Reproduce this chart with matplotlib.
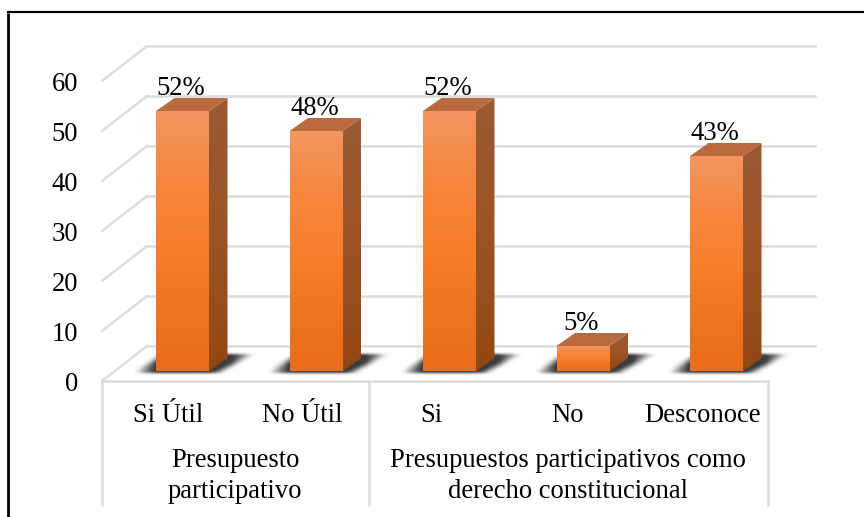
import numpy as np
import matplotlib
matplotlib.use("Agg")
import matplotlib.pyplot as plt
from matplotlib.patches import Polygon, Rectangle
from matplotlib.colors import LinearSegmentedColormap

categories = ["Si Útil", "No Útil", "Si", "No", "Desconoce"]
values = [52, 48, 52, 5, 43]
value_labels = ["52%", "48%", "52%", "5%", "43%"]
groups = ["Presupuesto\nparticipativo", "Presupuestos participativos como\nderecho constitucional"]
y_ticks = [0, 10, 20, 30, 40, 50, 60]

W, H = 864, 517
plt.rcParams["font.family"] = ["Liberation Serif", "DejaVu Serif"]
fig = plt.figure(figsize=(W / 100, H / 100), dpi=100, facecolor="white")
ax = fig.add_axes([0, 0, 1, 1])
SP = 133.5
U = 5.0
X0, Y0 = 182.5, 371.0
xlim = ((0 - X0) / SP, (W - X0) / SP)
ylim = ((Y0 - H) / U, Y0 / U)
ax.set_xlim(*xlim)
ax.set_ylim(*ylim)
ax.axis("off")

px = lambda p: (p - X0) / SP
py = lambda p: (Y0 - p) / U
GRID = "#DCDCDC"
FS = 19.2

# outer frame: only the top and left rules are inside the picture
ax.plot([px(7.5), px(7.5)], [py(12.5), py(517)], color="black", lw=2.0, zorder=1, solid_capstyle="butt")
ax.plot([px(6.5), px(864)], [py(12), py(12)], color="black", lw=1.6, zorder=1, solid_capstyle="butt")

# gridlines and left wall
for v in y_ticks:
    by = py(346) + v
    fy = py(381) + v
    ax.plot([px(102), px(147)], [fy, by], color=GRID, lw=1.8, zorder=1, solid_capstyle="round")
    ax.plot([px(147), px(815)], [by, by], color=GRID, lw=1.8, zorder=1)
    ax.text(px(78), fy - 0.05, str(v), ha="right", va="center_baseline", fontsize=FS, color="black")

# category table
ax.plot([px(102), px(768)], [py(381), py(381)], color=GRID, lw=1.8, zorder=1)
for xp in (102, 369, 768):
    ax.plot([px(xp), px(xp)], [py(381), py(505.5)], color=GRID, lw=1.8, zorder=1, solid_capstyle="butt")

bw = 53 / SP
ddx, ddy = 18.5 / SP, 13 / U
cm_front = LinearSegmentedColormap.from_list("f", ["#F49560", "#F6873F", "#F87F2C", "#EF7520", "#E96D1B"])
cm_side = LinearSegmentedColormap.from_list("s", ["#9A5A33", "#9C5426", "#934812"])
grad = np.linspace(0, 1, 256).reshape(-1, 1)


def box(a, r, axis):
    k = np.ones(2 * r + 1) / (2 * r + 1)
    return np.apply_along_axis(lambda m: np.convolve(m, k, mode="same"), axis, a)


# soft floor shadow, built once in a small pixel raster then placed under each bar
sw, sh = 130, 32
yy, xx = np.mgrid[0:sh, 0:sw]
h = 21 - yy
left = 1 + h * 1.6
right = 84 + h * 1.9
mask = ((h >= -1) & (h <= 17) & (xx >= left) & (xx <= right)).astype(float)
for _ in range(2):
    mask = box(box(mask, 1, 0), 5, 1)
fade = np.clip((xx + 4) / 24, 0, 1) * np.clip((124 - xx) / 28, 0, 1)
shade = np.zeros((sh, sw, 4))
shade[..., :3] = 0.24
shade[..., 3] = np.clip(mask * fade * 1.05, 0, 1)

for i, (v, lab) in enumerate(zip(values, value_labels)):
    l, r = i - bw / 2, i + bw / 2
    sx0 = l - 21 / SP
    ax.imshow(shade, extent=[sx0, sx0 + sw / SP, -(sh - 21) / U, 21 / U], aspect="auto",
              origin="upper", zorder=2, interpolation="bilinear")
    im = ax.imshow(grad, extent=[l, r, 0, v], cmap=cm_front, origin="upper", aspect="auto", zorder=4)
    im.set_clip_path(Rectangle((l, 0), r - l, v, transform=ax.transData))
    side = Polygon([(r, 0), (r + ddx, ddy), (r + ddx, v + ddy), (r, v)], closed=True, transform=ax.transData)
    im2 = ax.imshow(grad, extent=[r, r + ddx, 0, v + ddy], cmap=cm_side, origin="upper", aspect="auto", zorder=4)
    im2.set_clip_path(side)
    ax.add_patch(Polygon([(l, v), (r, v), (r + ddx, v + ddy), (l + ddx, v + ddy)],
                         closed=True, fc="#B96B3F", ec="none", zorder=4))
    ax.text(i - 1.5 / SP, v + 4.6, lab, ha="center", va="center", fontsize=FS, color="black", zorder=5)

cat_x = [168, 302, 431, 567, 702]
for c, xp in zip(categories, cat_x):
    ax.text(px(xp), py(413), c, ha="center", va="center_baseline", fontsize=FS, color="black")

ax.set_xlim(*xlim)
ax.set_ylim(*ylim)

ax.text(px(235), py(476), groups[0], ha="center", va="center", fontsize=FS, linespacing=1.3, color="black")
ax.text(px(568), py(476), groups[1], ha="center", va="center", fontsize=FS, linespacing=1.3, color="black")

fig.savefig("out.png", dpi=100)
